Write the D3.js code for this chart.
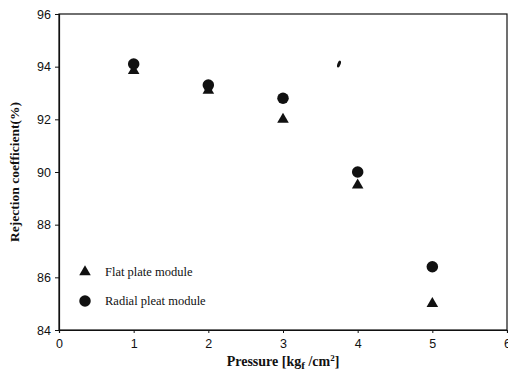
<!DOCTYPE html>
<html>
<head>
<meta charset="utf-8">
<script src="https://cdn.jsdelivr.net/npm/d3@7"></script>
<style>
  html, body { margin: 0; padding: 0; background: #fff; }
  svg { display: block; }
  .tick text { font-family: "Liberation Sans", Arial, sans-serif; font-size: 12.5px; fill: #111; }
</style>
</head>
<body>
<svg id="chart" width="508" height="385"></svg>
<script>
// Operating pressure (kgf/cm2)
const pressure = [1, 2, 3, 4, 5];
// Rejection coefficient (%) for each module type
const flatPlate = [93.85, 93.1, 92.0, 89.5, 85.0];
const radialPleat = [94.1, 93.3, 92.8, 90.0, 86.4];
// Stray ink blot on the original print
const strayMark = [{ x: 3.75, y: 94.1 }];

const xTicks = [0, 1, 2, 3, 4, 5, 6];
const yTicks = [84, 86, 88, 90, 92, 94, 96];

const seriesNames = ["Flat plate module", "Radial pleat module"];

const svg = d3.select("#chart");
const W = 508, H = 385;
const m = { left: 59, right: 1, top: 14, bottom: 55 };

const x = d3.scaleLinear().domain([0, 6]).range([m.left, W - m.right]);
const y = d3.scaleLinear().domain([84, 96]).range([H - m.bottom, m.top]);

const ink = "#111";
const serif = "'Liberation Serif', 'Times New Roman', serif";

// Frame
svg.append("rect")
  .attr("x", x(0)).attr("y", y(96))
  .attr("width", x(6) - x(0)).attr("height", y(84) - y(96))
  .attr("fill", "none").attr("stroke", ink).attr("stroke-width", 1.2);

// Axes
const xAxis = svg.append("g")
  .attr("transform", `translate(0,${y(84)})`)
  .call(d3.axisBottom(x).tickValues(xTicks).tickSize(3).tickPadding(6).tickFormat(d3.format("d")));
const yAxis = svg.append("g")
  .attr("transform", `translate(${x(0)},0)`)
  .call(d3.axisLeft(y).tickValues(yTicks).tickSize(4).tickPadding(4).tickFormat(d3.format("d")));
[xAxis, yAxis].forEach(g => {
  g.select(".domain").attr("stroke", ink).attr("stroke-width", 1.2);
  g.selectAll(".tick line").attr("stroke", ink).attr("stroke-width", 1);
  g.selectAll("text").attr("fill", ink);
});

// Axis titles
svg.append("text")
  .attr("transform", `translate(19,${(y(84) + y(96)) / 2}) rotate(-90)`)
  .attr("text-anchor", "middle")
  .attr("font-family", serif)
  .attr("font-weight", "bold").attr("font-size", 13.5).attr("fill", ink)
  .text("Rejection coefficient(%)");

const xt = svg.append("text")
  .attr("x", (x(0) + x(6)) / 2).attr("y", 366)
  .attr("text-anchor", "middle")
  .attr("font-family", serif)
  .attr("font-weight", "bold").attr("font-size", 14).attr("fill", ink);
xt.append("tspan").text("Pressure [kg");
xt.append("tspan").attr("font-size", 11).attr("dy", 3).text("f");
xt.append("tspan").attr("dy", -3).text(" /cm");
xt.append("tspan").attr("font-size", 9).attr("dy", -5).text("2");
xt.append("tspan").attr("dy", 5).text("]");

// Markers
const tri = d3.symbol().type(d3.symbolTriangle).size(58);
const circ = d3.symbol().type(d3.symbolCircle).size(104);

svg.append("g").selectAll("path")
  .data(pressure.map((p, i) => ({ p, v: flatPlate[i] })))
  .join("path")
  .attr("d", tri)
  .attr("transform", d => `translate(${x(d.p)},${y(d.v)})`)
  .attr("fill", ink);

svg.append("g").selectAll("path")
  .data(pressure.map((p, i) => ({ p, v: radialPleat[i] })))
  .join("path")
  .attr("d", circ)
  .attr("transform", d => `translate(${x(d.p)},${y(d.v)})`)
  .attr("fill", ink);

svg.append("g").selectAll("ellipse")
  .data(strayMark)
  .join("ellipse")
  .attr("transform", d => `translate(${x(d.x)},${y(d.y)}) rotate(20)`)
  .attr("rx", 1.6).attr("ry", 3.6)
  .attr("fill", ink);

// Legend
const legend = svg.append("g").attr("transform", "translate(85,272)");
const items = legend.selectAll("g")
  .data(seriesNames)
  .join("g")
  .attr("transform", (d, i) => `translate(0,${i * 29})`);
items.append("path")
  .attr("d", (d, i) => (i === 0 ? tri : circ)())
  .attr("fill", ink);
items.append("text")
  .attr("x", 20).attr("y", 4)
  .attr("font-family", serif)
  .attr("font-size", 12.5).attr("fill", ink)
  .text(d => d);
</script>
</body>
</html>
